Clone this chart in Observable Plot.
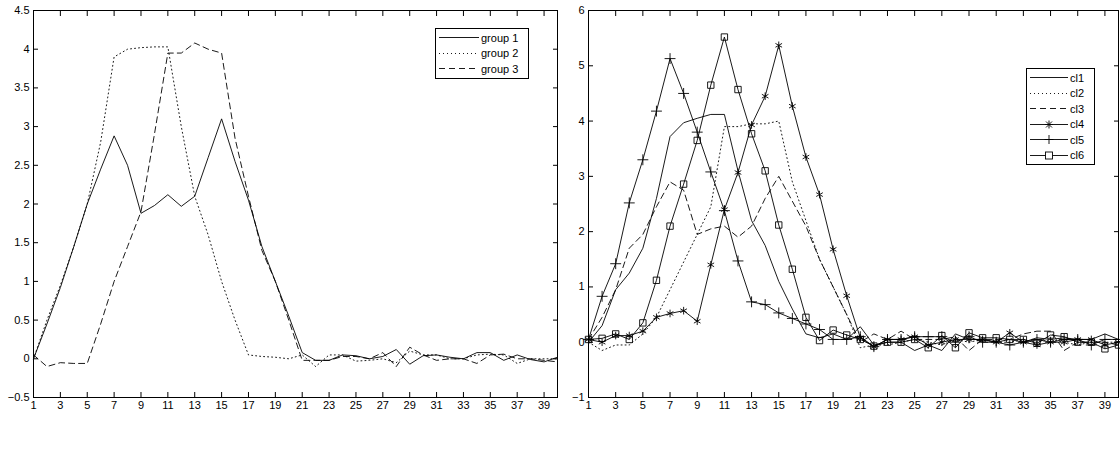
<!DOCTYPE html>
<html>
<head>
<meta charset="utf-8">
<script src="https://cdn.jsdelivr.net/npm/d3@7"></script>
<script src="https://cdn.jsdelivr.net/npm/@observablehq/plot@0.6"></script>
<style>
  body { margin: 0; background: #fff; font-family: "Liberation Sans", Arial, sans-serif; }
  #wrap { position: relative; width: 1120px; height: 453px; display: flex; }
  .leg { position: absolute; background: #fff; border: 1px solid #000; font-size: 11px; padding: 1px 3px; }
  .leg div { display: flex; align-items: center; height: 15.5px; }
  .leg svg { margin-right: 2px; }
</style>
</head>
<body>
<div id="wrap"></div>
<script>
const X = d3.range(1, 41);
const XTICKS = d3.range(1, 40, 2);

const group1 = [0,0.45,0.92,1.45,2.0,2.45,2.88,2.5,1.88,1.98,2.12,1.97,2.1,2.6,3.1,2.55,2.05,1.45,1.0,0.55,0.08,-0.02,-0.02,0.05,0.04,0.0,0.03,0.12,-0.07,0.04,0.05,0.02,0.0,0.08,0.08,-0.02,0.05,-0.01,-0.04,0.02];
const group2 = [0,0.5,0.95,1.45,2.0,2.8,3.9,4.0,4.02,4.03,4.03,3.0,2.1,1.6,1.0,0.5,0.05,0.03,0.02,0.0,0.05,-0.1,0.05,0.05,-0.03,-0.02,0.0,-0.05,0.1,0.05,0.05,0.0,0.0,0.05,0.06,0.05,-0.06,0.0,0.0,0.0];
const group3 = [0.05,-0.1,-0.05,-0.06,-0.06,0.45,1.0,1.45,1.9,2.9,3.95,3.95,4.08,4.0,3.95,2.85,2.1,1.4,1.0,0.5,-0.02,-0.02,-0.02,0.03,0.03,0.0,0.08,-0.1,0.15,0.05,-0.02,0.0,0.0,-0.06,0.05,0.06,0.0,0.0,-0.02,-0.04];

const cl1 = [0,0.3,0.95,1.25,1.7,2.6,3.72,3.97,4.05,4.12,4.12,3.1,2.2,1.75,1.1,0.6,0.15,0.08,0.15,0.05,0.28,-0.05,0.0,0.0,-0.15,-0.05,-0.15,0.15,0.05,0.05,0.0,0.05,0.0,0.08,0.05,0.08,0.05,0.05,0.15,0.05];
const cl2 = [0,-0.15,-0.05,-0.05,0.15,0.45,0.95,1.45,1.95,2.45,3.9,3.9,3.95,3.95,4.0,2.9,2.2,1.5,1.0,0.5,-0.1,-0.05,-0.05,0.0,0.05,0.0,-0.05,0.05,0.0,0.05,0.0,0.0,0.05,0.0,0.05,0.0,-0.05,0.0,0.0,0.0];
const cl3 = [0.05,0.45,0.95,1.7,1.95,2.45,2.9,2.75,1.95,2.05,2.1,1.9,2.1,2.6,3.0,2.55,2.1,1.5,1.0,0.5,0.0,0.15,0.05,0.2,0.05,0.05,0.05,0.1,-0.15,0.05,0.05,0.05,0.15,0.2,0.2,-0.15,0.0,0.0,0.0,-0.05];
const cl4 = [0.05,0.0,0.12,0.12,0.2,0.45,0.52,0.57,0.38,1.4,2.4,3.07,3.93,4.45,5.37,4.27,3.35,2.67,1.68,0.84,0.08,-0.08,0.05,0.05,0.1,-0.05,0.0,0.05,0.05,0.05,0.0,0.17,0.0,-0.05,0.0,0.0,0.05,0.05,-0.05,0.0];
const cl5 = [0.05,0.83,1.42,2.52,3.3,4.18,5.13,4.5,3.8,3.08,2.38,1.47,0.73,0.68,0.53,0.43,0.33,0.23,0.05,0.05,0.1,-0.08,0.05,0.05,0.1,0.1,0.1,0.0,0.1,0.0,0.0,-0.05,0.0,0.05,0.0,0.05,0.05,-0.05,0.05,0.05];
const cl6 = [0.05,0.07,0.15,0.05,0.35,1.12,2.1,2.86,3.65,4.65,5.52,4.57,3.77,3.1,2.12,1.32,0.45,0.03,0.22,0.13,0.05,-0.07,0.0,0.0,0.05,-0.1,0.12,-0.1,0.17,0.08,0.08,0.05,0.05,-0.02,0.13,0.1,0.0,0.0,-0.12,-0.05];

const DASH = { solid: null, dot: "1 3", dash: "6 4" };

function rows(vals) { return vals.map((v, i) => ({ x: X[i], y: v })); }

function panel(series, yDomain, yTicks, ml, mr) {
  const marks = [Plot.frame({ stroke: "#000" })];
  for (const s of series) {
    marks.push(Plot.line(rows(s.vals), { x: "x", y: "y", stroke: "#000", strokeWidth: 0.9, strokeDasharray: DASH[s.dash] }));
    if (s.symbol) marks.push(Plot.dot(rows(s.vals), { x: "x", y: "y", symbol: s.symbol, r: 3.6, stroke: "#000", strokeWidth: 0.9, fill: s.symbol === "square" ? "none" : "none" }));
  }
  marks.push(
    Plot.axisX({ anchor: "bottom", ticks: XTICKS, tickSize: -5, tickPadding: 9, fontSize: 11 }),
    Plot.axisX({ anchor: "top", ticks: XTICKS, tickSize: -5, tickFormat: () => "" }),
    Plot.axisY({ anchor: "left", ticks: yTicks, tickSize: -5, tickPadding: 9, fontSize: 11, tickFormat: (d) => d < 0 ? "\u2212" + (-d) : String(d) }),
    Plot.axisY({ anchor: "right", ticks: yTicks, tickSize: -5, tickFormat: () => "" })
  );
  return Plot.plot({
    width: 560, height: 453,
    marginLeft: ml, marginRight: mr, marginTop: 10, marginBottom: 56,
    style: { fontFamily: "Liberation Sans, Arial, sans-serif", fontSize: "11px", color: "#000", background: "#fff" },
    x: { domain: [1, 40], label: null },
    y: { domain: yDomain, label: null },
    marks
  });
}

function legend(items, left, top, w, lineW) {
  const d = document.createElement("div");
  d.className = "leg";
  d.style.left = left + "px"; d.style.top = top + "px"; d.style.width = w + "px";
  for (const it of items) {
    const row = document.createElement("div");
    const dash = DASH[it.dash] ? `stroke-dasharray="${DASH[it.dash]}"` : "";
    let sym = "";
    const c = lineW / 2;
    if (it.symbol === "square") sym = `<rect x="${c-3.5}" y="4" width="7" height="7" fill="#fff" stroke="#000" stroke-width="0.9"/>`;
    if (it.symbol === "plus") sym = `<path d="M${c-4.5},7.5h9M${c},3v9" stroke="#000" stroke-width="0.9"/>`;
    if (it.symbol === "asterisk") sym = `<path d="M${c-4},7.5h8M${c},3.5v8M${c-3},4.5l6,6M${c+3},4.5l-6,6" stroke="#000" stroke-width="0.9"/>`;
    row.innerHTML = `<svg width="${lineW}" height="15"><line x1="0" x2="${lineW}" y1="7.5" y2="7.5" stroke="#000" stroke-width="0.9" ${dash}/>${sym}</svg><span>${it.name}</span>`;
    d.appendChild(row);
  }
  return d;
}

const wrap = document.getElementById("wrap");
wrap.appendChild(panel([
  { vals: group1, dash: "solid" },
  { vals: group2, dash: "dot" },
  { vals: group3, dash: "dash" }
], [-0.5, 4.5], d3.range(-0.5, 4.51, 0.5), 33, 3));
wrap.appendChild(panel([
  { vals: cl1, dash: "solid" },
  { vals: cl2, dash: "dot" },
  { vals: cl3, dash: "dash" },
  { vals: cl4, dash: "solid", symbol: "asterisk" },
  { vals: cl5, dash: "solid", symbol: "plus" },
  { vals: cl6, dash: "solid", symbol: "square" }
], [-1, 6], d3.range(-1, 6.01, 1), 28, 2));

wrap.appendChild(legend([
  { name: "group 1", dash: "solid" },
  { name: "group 2", dash: "dot" },
  { name: "group 3", dash: "dash" }
], 435, 28, 86, 40));
wrap.appendChild(legend([
  { name: "cl1", dash: "solid" },
  { name: "cl2", dash: "dot" },
  { name: "cl3", dash: "dash" },
  { name: "cl4", dash: "solid", symbol: "asterisk" },
  { name: "cl5", dash: "solid", symbol: "plus" },
  { name: "cl6", dash: "solid", symbol: "square" }
], 1026, 68, 61, 38));
</script>
</body>
</html>
